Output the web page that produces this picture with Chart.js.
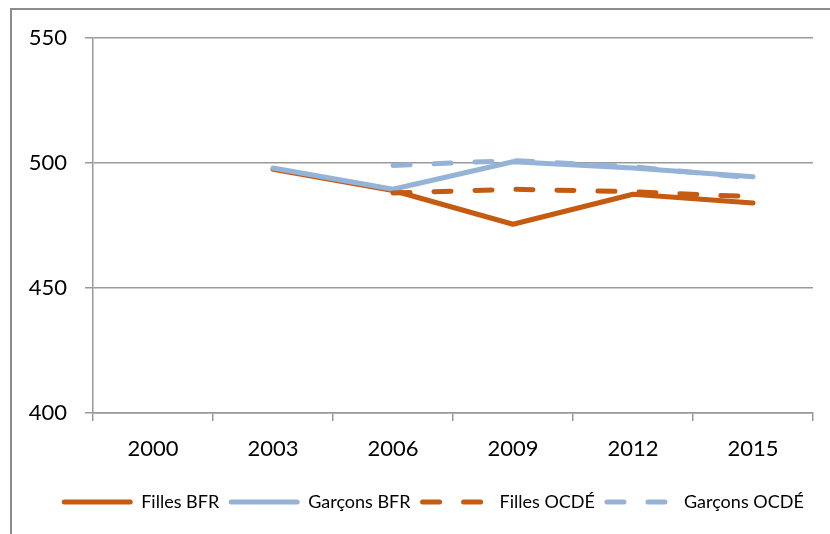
<!DOCTYPE html>
<html>
<head>
<meta charset="utf-8">
<script src="https://cdn.jsdelivr.net/npm/chart.js@4/dist/chart.umd.min.js"></script>
<style>
  html, body { margin: 0; padding: 0; background: #fff; }
  #wrap { width: 830px; height: 534px; }
</style>
</head>
<body>
<div id="wrap"><canvas id="chart" width="830" height="534"></canvas></div>
<script>
const years = ['2000', '2003', '2006', '2009', '2012', '2015'];
const fillesBFR = [null, 497.5, 489, 475.5, 487.5, 484];
const garconsBFR = [null, 498, 489.5, 500.5, 498, 494.5];
const fillesOCDE = [null, null, 488, 489.5, 488.5, 486.5];
const garconsOCDE = [null, null, 499, 501, 498.5, 494];
const yTicks = [400, 450, 500, 550];

const ORANGE = '#c55a11';
const BLUE = '#95b3d7';
const SAMPLE_W = 70;

// gray frame of the chart box (left + top edges visible)
const framePlugin = {
    id: 'frame',
    afterLayout(chart) {
        // legend sits a bit right of the plot centre in the original
        chart.legend.left += 13;
        chart.legend.right += 13;
    },
    beforeDraw(chart) {
        const ctx = chart.ctx;
        ctx.save();
        ctx.strokeStyle = '#8c8c8c';
        ctx.lineWidth = 2;
        ctx.beginPath();
        ctx.moveTo(11, 534);
        ctx.lineTo(11, 9);
        ctx.lineTo(830, 9);
        ctx.stroke();
        ctx.restore();
    }
};

// legend samples drawn by hand so the dashes show
const legendLinesPlugin = {
    id: 'legendLines',
    afterDraw(chart) {
        const legend = chart.legend;
        if (!legend || !legend.legendHitBoxes) return;
        const ctx = chart.ctx;
        legend.legendItems.forEach((item, i) => {
            const box = legend.legendHitBoxes[i];
            const ds = chart.data.datasets[item.datasetIndex];
            const y = box.top + box.height / 2;
            ctx.save();
            ctx.strokeStyle = ds.borderColor;
            ctx.lineWidth = ds.borderWidth;
            ctx.lineCap = 'round';
            ctx.setLineDash(ds.borderDash);
            ctx.beginPath();
            ctx.moveTo(box.left + 2, y);
            ctx.lineTo(box.left + SAMPLE_W - 2, y);
            ctx.stroke();
            ctx.restore();
        });
    }
};

function line(label, data, color, dashed, order) {
    return {
        label: label,
        data: data,
        borderColor: color,
        backgroundColor: color,
        borderWidth: 5,
        borderDash: dashed ? [17, 24] : [],
        borderCapStyle: 'round',
        borderJoinStyle: 'round',
        pointRadius: 0,
        pointHoverRadius: 0,
        tension: 0,
        spanGaps: false,
        order: order
    };
}

new Chart(document.getElementById('chart').getContext('2d'), {
    type: 'line',
    data: {
        labels: years,
        datasets: [
            line('Filles BFR', fillesBFR, ORANGE, false, 4),
            line('Garçons BFR', garconsBFR, BLUE, false, 3),
            line('Filles OCDÉ', fillesOCDE, ORANGE, true, 2),
            line('Garçons OCDÉ', garconsOCDE, BLUE, true, 1)
        ]
    },
    plugins: [framePlugin, legendLinesPlugin],
    options: {
        responsive: false,
        animation: false,
        layout: { padding: { left: 27, right: 17, top: 38, bottom: 13 } },
        plugins: {
            tooltip: { enabled: false },
            legend: {
                position: 'bottom',
                labels: {
                    usePointStyle: true,
                    pointStyle: 'line',
                    pointStyleWidth: SAMPLE_W,
                    padding: 10,
                    color: '#000',
                    font: { family: 'Lato', size: 18 },
                    sort: (a, b) => a.datasetIndex - b.datasetIndex,
                    generateLabels(chart) {
                        const items = Chart.defaults.plugins.legend.labels.generateLabels(chart);
                        items.forEach(it => { it.strokeStyle = 'rgba(0,0,0,0)'; it.fillStyle = 'rgba(0,0,0,0)'; });
                        return items;
                    }
                }
            }
        },
        scales: {
            x: {
                offset: true,
                grid: {
                    offset: true,
                    drawOnChartArea: false,
                    drawTicks: true,
                    tickLength: 8,
                    color: '#999999',
                    lineWidth: 1.5
                },
                border: { color: '#999999', width: 1.5 },
                ticks: {
                    color: '#000',
                    padding: 15,
                    maxRotation: 0,
                    font: { family: 'Lato', size: 22 }
                },
                afterFit(scale) { scale.height = 70; }
            },
            y: {
                min: 400,
                max: 550,
                afterBuildTicks(scale) { scale.ticks = yTicks.map(v => ({ value: v })); },
                grid: {
                    color: '#999999',
                    lineWidth: 1.5,
                    tickLength: 8
                },
                border: { color: '#999999', width: 1.5 },
                ticks: {
                    color: '#000',
                    padding: 18,
                    font: { family: 'Lato', size: 22 }
                },
                afterFit(scale) { scale.width = 66; }
            }
        }
    }
});
</script>
</body>
</html>
